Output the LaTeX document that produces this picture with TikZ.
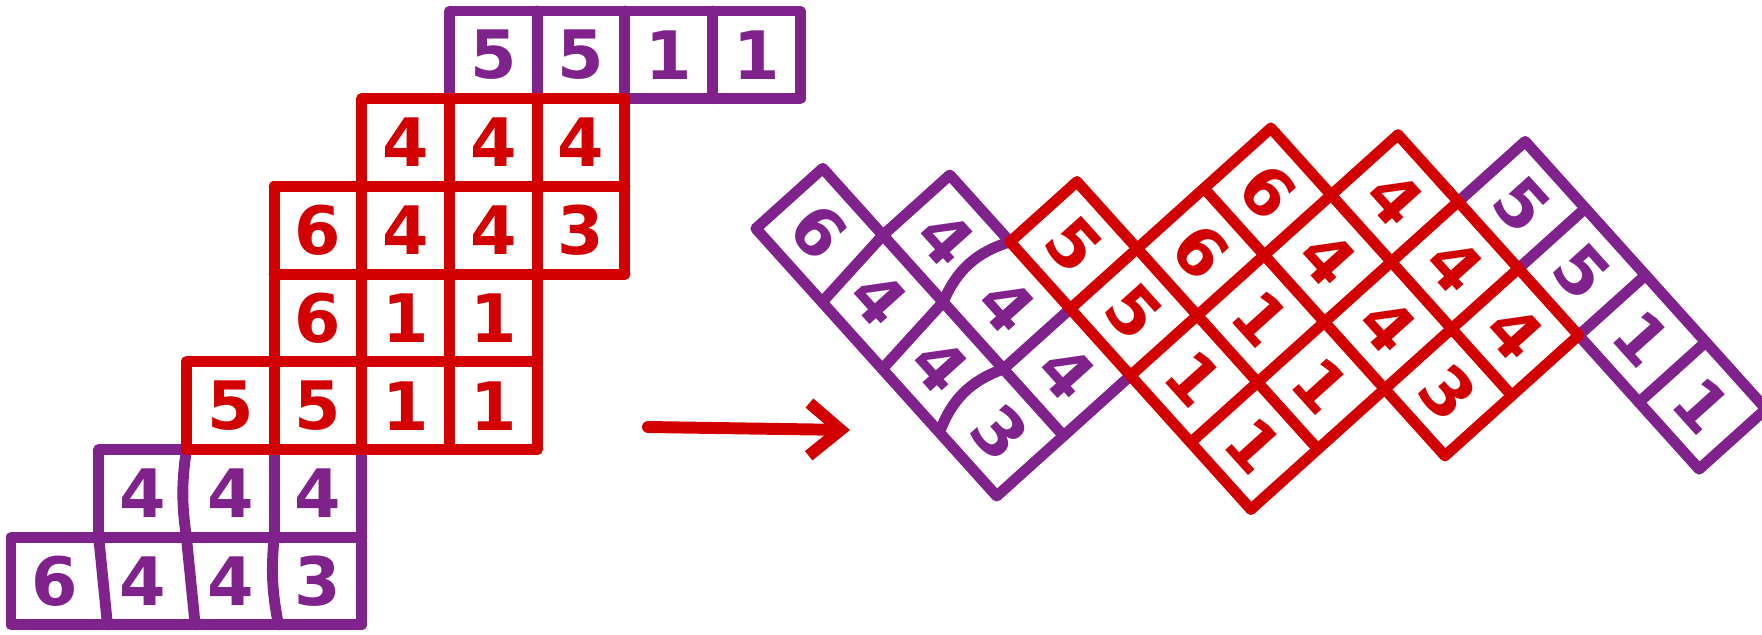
\documentclass[tikz,border=0pt]{standalone}
\usepackage{fontspec}
\setmainfont{DejaVu Sans}
\usetikzlibrary{arrows.meta}

\definecolor{purp}{RGB}{128,34,140}
\definecolor{redc}{RGB}{210,0,0}

% one tableau, #1 = prefix of the node names, #2 = bend of the wavy lines
\newcommand{\tableau}[2]{
	%Purple lines
	\draw[pline]	(7,-1) -- (9,-1) -- (9,0) -- (5,0) -- (5,-1);
	\draw[pline]	(6,0) -- (6,-1);
	\draw[pline]	(7,0) -- (7,-1);
	\draw[pline]	(8,0) -- (8,-1);
	\draw[pline]	(2,-5) -- (1,-5) -- (1,-6) -- (0,-6) -- (0,-7) -- (4,-7) -- (4,-5);
	\draw[pline]	(1,-6) -- (4,-6);
	\draw[pline]	(2,-5) to[bend right=#2] (2,-6);
	\draw[pline]	(3,-5) -- (3,-6);
	\draw[pline]	(1,-6) -- (1.1,-7);
	\draw[pline]	(2,-6) -- (2.1,-7);
	\draw[pline]	(3,-6) to[bend right=#2] (3.05,-7);

	%Red lines
	\draw[rline]	(4,-1) -- (7,-1);
	\draw[rline]	(3,-2) -- (7,-2);
	\draw[rline]	(3,-3) -- (7,-3);
	\draw[rline]	(2,-4) -- (6,-4);
	\draw[rline]	(2,-5) -- (6,-5);
	\draw[rline]	(2,-4) -- (2,-5);
	\draw[rline]	(3,-2) -- (3,-5);
	\draw[rline]	(4,-1) -- (4,-5);
	\draw[rline]	(5,-1) -- (5,-5);
	\draw[rline]	(6,-1) -- (6,-5);
	\draw[rline]	(7,-1) -- (7,-3);

	%Numbers
	\node[num=purp]	(#1-05)	at	(5.5,-0.5)	{5};
	\node[num=purp]	(#1-06)	at	(6.5,-0.5)	{5};
	\node[num=purp]	(#1-07)	at	(7.5,-0.5)	{1};
	\node[num=purp]	(#1-08)	at	(8.5,-0.5)	{1};

	\node[num=redc]	(#1-14)	at	(4.5,-1.5)	{4};
	\node[num=redc]	(#1-15)	at	(5.5,-1.5)	{4};
	\node[num=redc]	(#1-16)	at	(6.5,-1.5)	{4};

	\node[num=redc]	(#1-23)	at	(3.5,-2.5)	{6};
	\node[num=redc]	(#1-24)	at	(4.5,-2.5)	{4};
	\node[num=redc]	(#1-25)	at	(5.5,-2.5)	{4};
	\node[num=redc]	(#1-26)	at	(6.5,-2.5)	{3};

	\node[num=redc]	(#1-33)	at	(3.5,-3.5)	{6};
	\node[num=redc]	(#1-34)	at	(4.5,-3.5)	{1};
	\node[num=redc]	(#1-35)	at	(5.5,-3.5)	{1};

	\node[num=redc]	(#1-42)	at	(2.5,-4.5)	{5};
	\node[num=redc]	(#1-43)	at	(3.5,-4.5)	{5};
	\node[num=redc]	(#1-44)	at	(4.5,-4.5)	{1};
	\node[num=redc]	(#1-45)	at	(5.5,-4.5)	{1};

	\node[num=purp]	(#1-51)	at	(1.5,-5.5)	{4};
	\node[num=purp]	(#1-52)	at	(2.5,-5.5)	{4};
	\node[num=purp]	(#1-53)	at	(3.5,-5.5)	{4};

	\node[num=purp]	(#1-60)	at	(0.5,-6.5)	{6};
	\node[num=purp]	(#1-61)	at	(1.5,-6.5)	{4};
	\node[num=purp]	(#1-62)	at	(2.5,-6.5)	{4};
	\node[num=purp]	(#1-63)	at	(3.5,-6.5)	{3};
}

\begin{document}
\begin{tikzpicture}[
	pline/.style = {draw=purp, line width=3.1pt, line cap=round, line join=round},
	rline/.style = {draw=redc, line width=3.1pt, line cap=round, line join=round},
	num/.style = {text=#1, font=\fontsize{19}{19}\selectfont\bfseries, inner sep=0pt}
	]
	\useasboundingbox (0,0) rectangle (17.62,6.34);

	%Left tableau
	\begin{scope}[shift={(0.11,6.23)}, x=0.877cm, y=0.877cm]
		\tableau{L}{8}
	\end{scope}

	%Right tableau, turned
	\begin{scope}[shift={(12.24,8.27)}, rotate=-48, x=0.9cm, y=0.9cm, transform shape]
		\tableau{R}{25}
	\end{scope}

	%Arrow
	\coordinate	(from)	at	(6.48, 2.07);
	\coordinate	(to)	at	(8.50, 2.04);
	\draw[rline, line width=3.4pt, -{Straight Barb[length=9pt, width=15pt]}]	(from) -- (to);
\end{tikzpicture}
\end{document}
